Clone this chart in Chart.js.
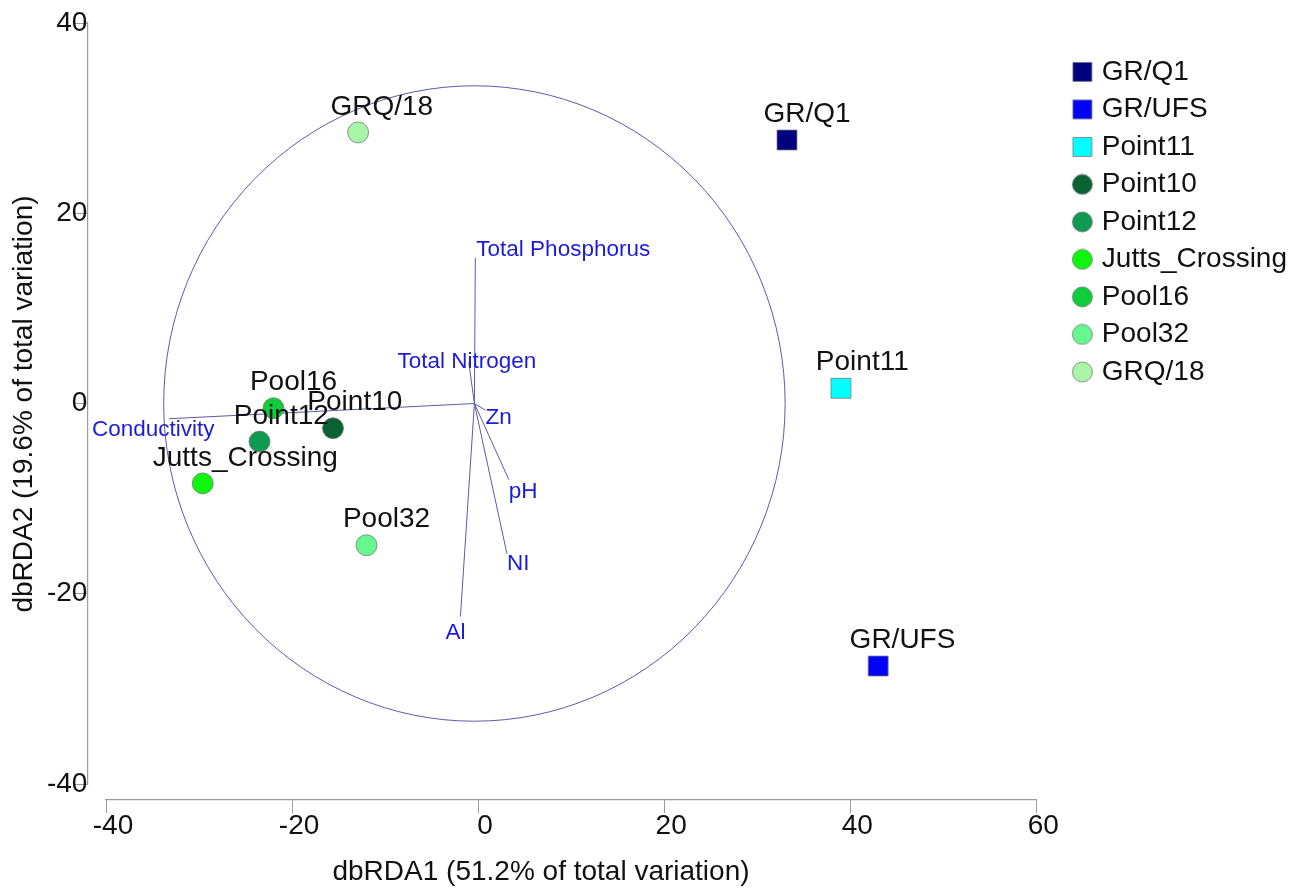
<!DOCTYPE html>
<html>
<head>
<meta charset="utf-8">
<title>dbRDA</title>
<script src="https://cdn.jsdelivr.net/npm/chart.js@4.4.1/dist/chart.umd.min.js"></script>
<style>
  html, body { margin: 0; padding: 0; background: #fff; }
  #wrap { width: 1305px; height: 890px; position: relative; }
</style>
</head>
<body>
<div id="wrap"><canvas id="rdaChart"></canvas></div>
<script>
// sites (dbRDA1 / dbRDA2 scores)
const siteNames = ['GR/Q1', 'GR/UFS', 'Point11', 'Point10', 'Point12', 'Jutts_Crossing', 'Pool16', 'Pool32', 'GRQ/18'];
const siteX = [33.2, 43.0, 39.0, -15.6, -23.5, -29.6, -22.0, -12.0, -12.9];
const siteY = [27.7, -27.6, 1.6, -2.6, -4.0, -8.4, -0.5, -14.9, 28.5];
const siteShapes = ['rect', 'rect', 'rect', 'circle', 'circle', 'circle', 'circle', 'circle', 'circle'];
const siteColors = ['#000080', '#0000ff', '#00ffff', '#0a6234', '#0f9a52', '#0ef50e', '#10cc3a', '#66f78f', '#a8f5a8'];

// predictor vectors
const vectorNames = ['Total Phosphorus', 'Total Nitrogen', 'Conductivity', 'Zn', 'pH', 'NI', 'Al'];
const vectorX = [-0.3, -1.0, -33.2, 0.8, 3.3, 3.1, -1.9];
const vectorY = [15.3, 4.3, -1.6, -0.7, -8.0, -15.8, -22.4];
const vectorOrigin = [-0.4, 0];
const circleRadius = 33.4;

const xTickValues = [-40, -20, 0, 20, 40, 60];
const yTickValues = [-40, -20, 0, 20, 40];
const xTitle = 'dbRDA1 (51.2% of total variation)';
const yTitle = 'dbRDA2 (19.6% of total variation)';

// label placement for the vector names: [textAlign, dx, dy] in pixels
const vectorLabelPlacement = [['left', 1, -8], ['center', -2, -1], ['center', -16, 11], ['left', 0, 8], ['left', 0, 12], ['left', 0, 10], ['center', -5, 16]];

const FONT = '"Liberation Sans", Arial, sans-serif';
const AXIS_GREY = '#9a9a9a';
const VECTOR_LINE = '#5b5ba8';
const VECTOR_TEXT = '#1c1cd6';

// legend marker: drawn right of the canvas centre so the text gap matches
function legendIcon(color, shape) {
    const c = document.createElement('canvas');
    c.width = 54;
    c.height = 22;
    const g = c.getContext('2d');
    const cx = 42.5;
    g.fillStyle = color;
    g.strokeStyle = 'rgba(120,120,120,0.8)';
    g.lineWidth = 1;
    g.beginPath();
    if (shape === 'rect') {
        g.rect(cx - 9.5, 1.5, 19, 19);
    } else {
        g.arc(cx, 11, 10, 0, Math.PI * 2);
    }
    g.fill();
    g.stroke();
    return c;
}
const legendIcons = siteNames.map(function (n, i) { return legendIcon(siteColors[i], siteShapes[i]); });

const siteDatasets = siteNames.map(function (name, i) {
    return {
        label: name,
        data: [{ x: siteX[i], y: siteY[i] }],
        pointStyle: siteShapes[i],
        pointRadius: siteShapes[i] === 'rect' ? 14.1 : 10.5,
        backgroundColor: siteColors[i],
        borderColor: 'rgba(120,120,120,0.8)',
        borderWidth: 1,
        order: 0
    };
});

const vectorDatasets = vectorNames.map(function (name, i) {
    return {
        label: name,
        data: [{ x: vectorOrigin[0], y: vectorOrigin[1] }, { x: vectorX[i], y: vectorY[i] }],
        showLine: true,
        pointRadius: 0,
        borderColor: VECTOR_LINE,
        borderWidth: 1,
        order: 1
    };
});

// correlation circle, drawn through the scales
const circlePlugin = {
    id: 'circle',
    beforeDatasetsDraw(chart) {
        const { ctx, scales } = chart;
        const cx = scales.x.getPixelForValue(vectorOrigin[0]);
        const cy = scales.y.getPixelForValue(vectorOrigin[1]);
        const rx = scales.x.getPixelForValue(vectorOrigin[0] + circleRadius) - cx;
        const ry = cy - scales.y.getPixelForValue(vectorOrigin[1] + circleRadius);
        ctx.save();
        ctx.strokeStyle = VECTOR_LINE;
        ctx.lineWidth = 1;
        ctx.beginPath();
        ctx.ellipse(cx, cy, rx, ry, 0, 0, Math.PI * 2);
        ctx.stroke();
        ctx.restore();
    }
};

const labelPlugin = {
    id: 'labels',
    afterDatasetsDraw(chart) {
        const ctx = chart.ctx;
        ctx.save();
        ctx.textBaseline = 'middle';
        // vector names
        ctx.font = '22.5px ' + FONT;
        ctx.fillStyle = VECTOR_TEXT;
        vectorNames.forEach(function (name, i) {
            const pt = chart.getDatasetMeta(siteNames.length + i).data[1];
            const p = vectorLabelPlacement[i];
            ctx.textAlign = p[0];
            ctx.fillText(name, pt.x + p[1], pt.y + p[2]);
        });
        // site names
        ctx.font = '28px ' + FONT;
        ctx.fillStyle = '#111';
        ctx.textAlign = 'left';
        siteNames.forEach(function (name, i) {
            const pt = chart.getDatasetMeta(i).data[0];
            const w = ctx.measureText(name).width;
            ctx.fillText(name, pt.x - 0.27 * w, pt.y - 25.5);
        });
        ctx.restore();
    }
};

const titlePlugin = {
    id: 'axisTitles',
    afterDraw(chart) {
        const { ctx, chartArea } = chart;
        ctx.save();
        ctx.font = '28px ' + FONT;
        ctx.fillStyle = '#111';
        ctx.textAlign = 'center';
        ctx.textBaseline = 'middle';
        ctx.fillText(xTitle, chartArea.left + 435, chartArea.bottom + 88);
        ctx.translate(24, chartArea.top + 381);
        ctx.rotate(-Math.PI / 2);
        ctx.fillText(yTitle, 0, 0);
        ctx.restore();
    }
};

new Chart(document.getElementById('rdaChart'), {
    type: 'scatter',
    data: { datasets: siteDatasets.concat(vectorDatasets) },
    options: {
        responsive: true,
        maintainAspectRatio: false,
        animation: false,
        layout: { padding: { left: 106, top: 23, bottom: 106, right: 8 } },
        scales: {
            x: {
                type: 'linear',
                min: -40,
                max: 60,
                position: { y: -41.6 },
                afterBuildTicks: function (scale) { scale.ticks = xTickValues.map(function (v) { return { value: v }; }); },
                grid: { drawOnChartArea: false, tickLength: 13, color: AXIS_GREY },
                border: { color: AXIS_GREY, width: 1.2 },
                ticks: { font: { family: FONT, size: 28 }, color: '#111', padding: -3, labelOffset: 7, maxRotation: 0, autoSkip: false }
            },
            y: {
                type: 'linear',
                min: -40,
                max: 40,
                position: { x: -42 },
                afterBuildTicks: function (scale) { scale.ticks = yTickValues.map(function (v) { return { value: v }; }); },
                grid: { drawOnChartArea: false, tickLength: 12, color: AXIS_GREY },
                border: { color: AXIS_GREY, width: 1.2 },
                ticks: { font: { family: FONT, size: 28 }, color: '#111', padding: 0, autoSkip: false }
            }
        },
        plugins: {
            tooltip: { enabled: false },
            legend: {
                position: 'right',
                align: 'start',
                title: { display: true, text: '', font: { size: 12 }, padding: { top: 0, bottom: 11 } },
                labels: {
                    usePointStyle: true,
                    pointStyleWidth: 42,
                    boxHeight: 20,
                    padding: 9.5,
                    color: '#111',
                    font: { family: FONT, size: 28 },
                    generateLabels: function (chart) {
                        return siteNames.map(function (name, i) {
                            return {
                                text: name,
                                datasetIndex: i,
                                pointStyle: legendIcons[i],
                                fillStyle: siteColors[i],
                                strokeStyle: siteColors[i],
                                fontColor: '#111',
                                lineWidth: 0,
                                hidden: false
                            };
                        });
                    }
                }
            }
        }
    },
    plugins: [circlePlugin, labelPlugin, titlePlugin]
});
</script>
</body>
</html>
